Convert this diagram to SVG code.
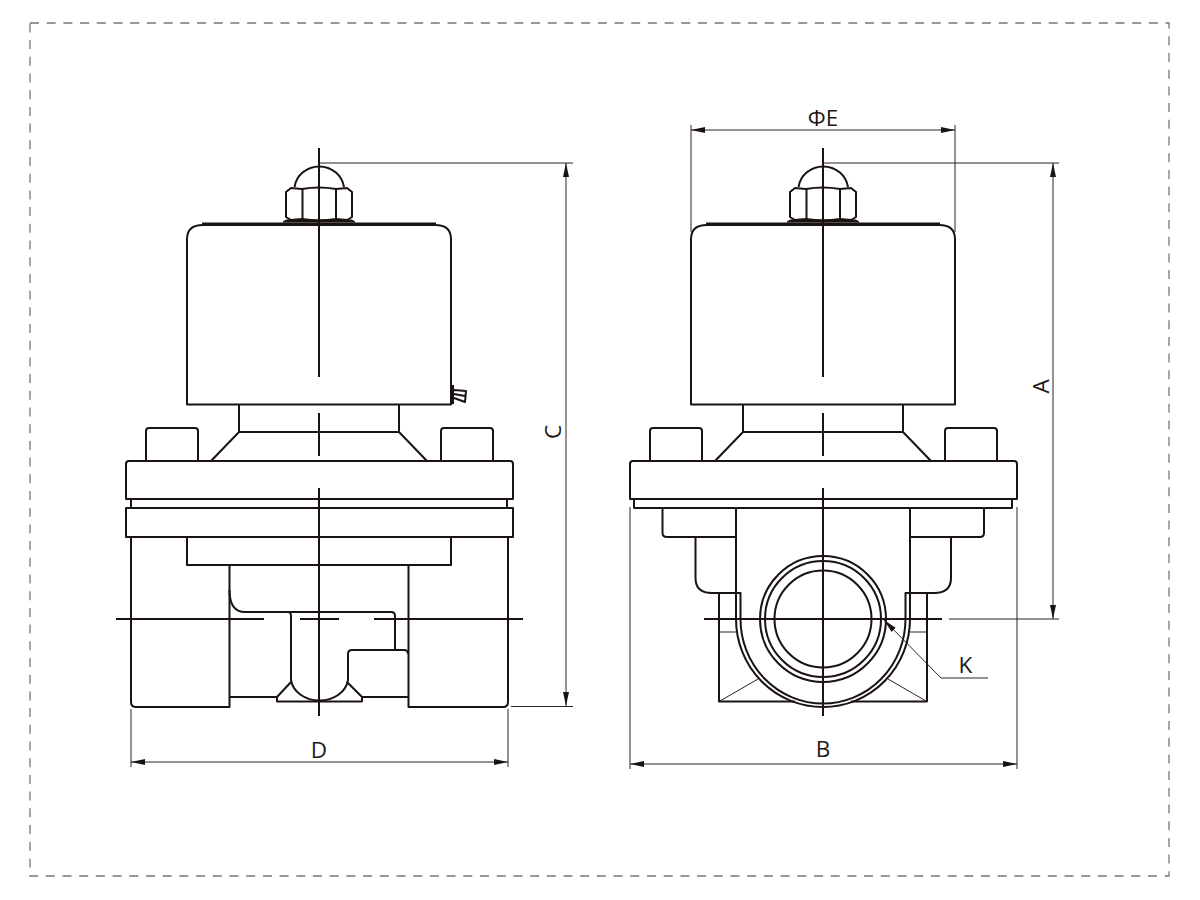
<svg xmlns="http://www.w3.org/2000/svg" width="1200" height="900" viewBox="0 0 1200 900">
<style>
.o{fill:none;stroke:#1a1311;stroke-width:2;stroke-linejoin:round}
.c{fill:none;stroke:#1a1311;stroke-width:2}
.d{fill:none;stroke:#2a2422;stroke-width:1}
.t{font-family:"Open Sans","Noto Sans",sans-serif;font-size:22.500px;fill:#231815;text-anchor:middle}
</style>
<defs>
<marker id="a" viewBox="0 0 14 6" refX="14" refY="3" markerWidth="14" markerHeight="6" markerUnits="userSpaceOnUse" orient="auto-start-reverse"><path d="M0 0L14 3L0 6Z" fill="#1a1311"/></marker>
<g id="head">
<path class="o" d="M294.500 187A25 24 0 0 1 344 187"/>
<path class="o" d="M286 192L291 188L302 189Q319 186 336 189L347 188L352 192V217L347 220L336 219Q319 222 302 219L291 220L286 217Z"/>
<path class="o" d="M302.500 189V219M336 189V219"/>
<path d="M283 222L286 220H352L355 222Z" fill="#1a1311" stroke="#1a1311"/>
<path class="o" stroke-width="3" d="M202 223.500H436"/>
<path class="o" d="M187 239Q187 225 203 225H435Q451 225 451 239V404.500H187Z"/>
<path class="o" d="M239 405V432H399V405M239 432L211 461M399 432L427 461"/>
<path class="o" d="M146 461V431Q146 428 149 428H195Q198 428 198 431V461M441 461V431Q441 428 444 428H490Q493 428 493 431V461"/>
<path class="o" d="M129 461H510Q513 461 513 464V499H126V464Q126 461 129 461Z"/>
</g>
</defs>
<rect x="30" y="23" width="1139" height="853" fill="none" stroke="#777" stroke-width="1.300" stroke-dasharray="9 7.700"/>
<g id="left-valve">
<use href="#head"/>
<path class="o" d="M453 385V404M454 390L466 391L465 402L454 398M454 394L465 396"/>
<path class="o" d="M131 499V508H507V499M126 508H513V537H126Z"/>
<path class="o" d="M131 537V702Q131 707 136 707H229.500V565M187 537V565H451V537M508 537V702Q508 707 503 707H408.500V565"/>
<path class="o" d="M229.500 590Q229.500 612 245 612H391Q395 612 395 616V650"/>
<path class="o" d="M408 654Q408 650 404 650H352Q348 650 348 654V680C346 692 334 700.500 319.500 700.500C305 700.500 293 692 291 680V616Q291 612 288 612"/>
<path class="o" d="M229.500 697H277M362 697H408.500M291 682L277 697V701.500H362V697L347 682"/>
</g>
<g id="right-valve">
<use href="#head" x="504"/>
<path class="o" d="M634 499V508H1012V499"/>
<path class="o" d="M662.500 508V533Q662.500 537 667 537H736M984 508V533Q984 537 980 537H910"/>
<path class="o" d="M695.500 537V578Q695.500 593 712 593H740.500V619A82.500 84.500 0 0 0 905.500 619V593H934Q951 593 951 578V537"/>
<path class="o" d="M736 508V619A87 88 0 0 0 910 619V508"/>
<path class="o" d="M719 593V701.500H795M927 593V701.500H851"/>
<path class="d" d="M719 632H736M910 632H927M720 701L758 679M888 679L926 701"/>
<circle class="o" cx="823" cy="619" r="63"/>
<circle class="o" cx="823" cy="619" r="58"/>
<circle class="o" cx="823" cy="619" r="48.500"/>
</g>
<g id="connectors">
<path class="c" d="M319 148V377M319 413V456M319 488V716M116 619H264M300 619H339M374 619H523"/>
<path class="c" d="M823 148V377M823 413V456M823 488V716M704 619H942"/>
<path class="d" d="M319 163H573M511 706.500H573M131 709V767M508 709V767M823 163H1059M949 619H1059M691 125V232M955 125V232M630 507V769M1017 507V769M941 678H988"/>
<path class="d" marker-start="url(#a)" marker-end="url(#a)" d="M566 163V706"/>
<path class="d" marker-start="url(#a)" marker-end="url(#a)" d="M131 762H508"/>
<path class="d" marker-start="url(#a)" marker-end="url(#a)" d="M1053 163V619"/>
<path class="d" marker-start="url(#a)" marker-end="url(#a)" d="M691 130H955"/>
<path class="d" marker-start="url(#a)" marker-end="url(#a)" d="M630 764H1017"/>
<path class="d" marker-end="url(#a)" d="M941 678L884 620"/>
</g>
<g id="labels">
<text class="t" x="319" y="758">D</text>
<text class="t" x="823" y="757">B</text>
<text class="t" x="823" y="125.500">ΦE</text>
<text class="t" x="965.500" y="672.500">K</text>
<text class="t" transform="translate(561 432) rotate(-90)">C</text>
<text class="t" transform="translate(1049 386.500) rotate(-90)">A</text>
</g>
</svg>
